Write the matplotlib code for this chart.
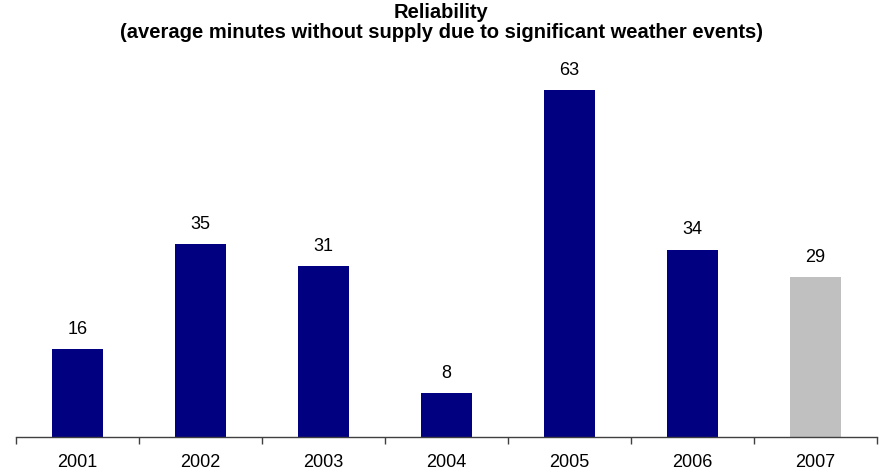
import matplotlib
matplotlib.use("Agg")
import matplotlib.pyplot as plt
import numpy as np

years = ["2001", "2002", "2003", "2004", "2005", "2006", "2007"]
minutes = [16, 35, 31, 8, 63, 34, 29]
bar_colors = ["#000080"] * 6 + ["#c0c0c0"]

plt.rcParams["font.family"] = ["Liberation Sans", "DejaVu Sans"]

fig = plt.figure(figsize=(8.82, 4.75), dpi=100)
ax = fig.add_axes([16 / 882, 38 / 475, 861 / 882, 386 / 475])

x = np.arange(len(years))
ax.bar(x, minutes, width=0.41, color=bar_colors)

for xi, v in zip(x, minutes):
    ax.text(xi, v + 2.0, str(v), ha="center", va="bottom", fontsize=13)

ax.set_xlim(-0.5, len(years) - 0.5)
ax.set_ylim(0, 70)

# category boundary ticks on the bottom axis, labels centred under bars
ax.set_xticks(np.arange(len(years) + 1) - 0.5)
ax.set_xticklabels([])
ax.set_xticks(x, minor=True)
ax.set_xticklabels(years, minor=True, fontsize=13)
ax.tick_params(axis="x", which="major", length=5, width=1, color="#404040", direction="out")
ax.tick_params(axis="x", which="minor", length=0, pad=12)
ax.set_yticks([])

for side in ["top", "right", "left"]:
    ax.spines[side].set_visible(False)
ax.spines["bottom"].set_color("#404040")
ax.spines["bottom"].set_linewidth(1)

fig.text(0.5, 1 - 12 / 475, "Reliability", ha="center", va="center",
         fontsize=14.5, fontweight="bold")
fig.text(0.5, 1 - 32 / 475,
         "(average minutes without supply due to significant weather events)",
         ha="center", va="center", fontsize=14.5, fontweight="bold")

fig.savefig("out.png", dpi=100)
